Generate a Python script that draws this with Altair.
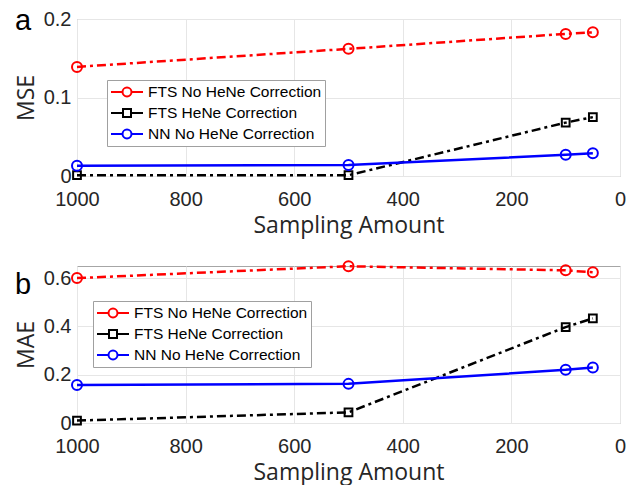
import altair as alt
import pandas as pd

x_values = [1000, 500, 100, 50]
series_names = ["FTS No HeNe Correction", "FTS HeNe Correction", "NN No HeNe Correction"]

mse_fts_no_hene = [0.139, 0.162, 0.181, 0.183]
mse_fts_hene = [0.001, 0.001, 0.068, 0.075]
mse_nn_no_hene = [0.013, 0.014, 0.027, 0.029]

mae_fts_no_hene = [0.600, 0.649, 0.632, 0.624]
mae_fts_hene = [0.010, 0.044, 0.397, 0.433]
mae_nn_no_hene = [0.157, 0.162, 0.220, 0.230]

x_ticks = [1000, 800, 600, 400, 200, 0]
mse_ticks = [0, 0.1, 0.2]
mae_ticks = [0, 0.2, 0.4, 0.6]

colors = ["#ff0000", "#000000", "#0000ff"]
dashes = [[9, 4, 3, 4], [9, 4, 3, 4], None]
shapes = ["circle", "square", "circle"]
sizes = [100, 60, 100]
legend_paths = [
    "M-2,0H-0.56M0.56,0H2M-0.56,0A0.56,0.56,0,1,1,0.56,0A0.56,0.56,0,1,1,-0.56,0",
    "M-2,0H-0.5M0.5,0H2M-0.5,-0.5H0.5V0.5H-0.5Z",
    "M-2,0H-0.56M0.56,0H2M-0.56,0A0.56,0.56,0,1,1,0.56,0A0.56,0.56,0,1,1,-0.56,0",
]

W, H = 543, 157


def panel(values_list, ytitle, ymax, yticks, letter, lx, ly, letter_y):
    rows = []
    for name, vals in zip(series_names, values_list):
        for xv, yv in zip(x_values, vals):
            rows.append({"x": xv, "y": yv, "series": name})
    df = pd.DataFrame(rows)
    base = alt.Chart(df)
    xenc = alt.X(
        "x:Q",
        scale=alt.Scale(domain=[0, 1000], reverse=True, nice=False, zero=False),
        axis=alt.Axis(values=x_ticks, format="d", title="Sampling Amount", labelPadding=13,
                      labelFlush=False, titlePadding=5, ticks=False, domain=False),
    )
    yenc = alt.Y(
        "y:Q",
        scale=alt.Scale(domain=[0, ymax], nice=False),
        axis=alt.Axis(values=yticks, format="~g", title=ytitle, labelPadding=6,
                      labelFlush=False, titlePadding=5, ticks=False, domain=False),
    )
    layers = []
    for i, name in enumerate(series_names):
        sub = base.transform_filter(alt.datum.series == name)
        lk = dict(color=colors[i], strokeWidth=2.5)
        if dashes[i]:
            lk["strokeDash"] = dashes[i]
        layers.append(sub.mark_line(**lk).encode(x=xenc, y=yenc))
        layers.append(
            sub.mark_point(shape=shapes[i], filled=False, color=colors[i],
                           strokeWidth=2, size=sizes[i], opacity=1).encode(x=xenc, y=yenc)
        )
    legend = alt.Legend(
        title=None, orient="none", legendX=lx, legendY=ly,
        strokeColor="#a0a0a0", fillColor="white", padding=3,
        labelFont="Liberation Sans", labelFontSize=15.5, labelColor="#000000", labelLimit=400,
        symbolSize=256, symbolOffset=8, symbolStrokeWidth=2, labelOffset=12, rowPadding=3,
        symbolOpacity=1,
    )
    leg = base.transform_filter("false").mark_point(filled=False, strokeWidth=2, opacity=1).encode(
        x=xenc, y=yenc,
        color=alt.Color("series:N", scale=alt.Scale(domain=series_names, range=colors), legend=legend),
        shape=alt.Shape("series:N", scale=alt.Scale(domain=series_names, range=legend_paths), legend=legend),
    )
    txt = alt.Chart(pd.DataFrame({"t": [letter]})).mark_text(
        align="left", baseline="alphabetic", font="Liberation Sans", fontSize=29, color="#000000"
    ).encode(text="t:N", x=alt.value(-62), y=alt.value(letter_y))
    return alt.layer(*layers, leg, txt).properties(width=W, height=H)


pa = panel([mse_fts_no_hene, mse_fts_hene, mse_nn_no_hene], "MSE", 0.2, mse_ticks, "a", 30, 61, 11)
pb = panel([mae_fts_no_hene, mae_fts_hene, mae_nn_no_hene], "MAE", 0.65, mae_ticks, "b", 16, 35, 28)

chart = alt.vconcat(pa, pb, spacing=18).resolve_scale(
    x="independent", y="independent", color="independent", shape="independent"
).resolve_legend(color="independent", shape="independent").properties(
    padding={"left": 14, "top": 6, "right": 0, "bottom": 0}, background="white"
).configure_view(
    stroke="#a6a6a6", strokeWidth=1
).configure_axis(
    grid=True, gridColor="#e6e6e6", gridWidth=1,
    labelFont="Liberation Sans", labelFontSize=20, labelColor="#262626",
    titleFont="Open Sans", titleFontSize=23, titleFontWeight="normal", titleColor="#262626",
)

chart.save("out.html", embed_options={"renderer": "svg", "actions": False})
